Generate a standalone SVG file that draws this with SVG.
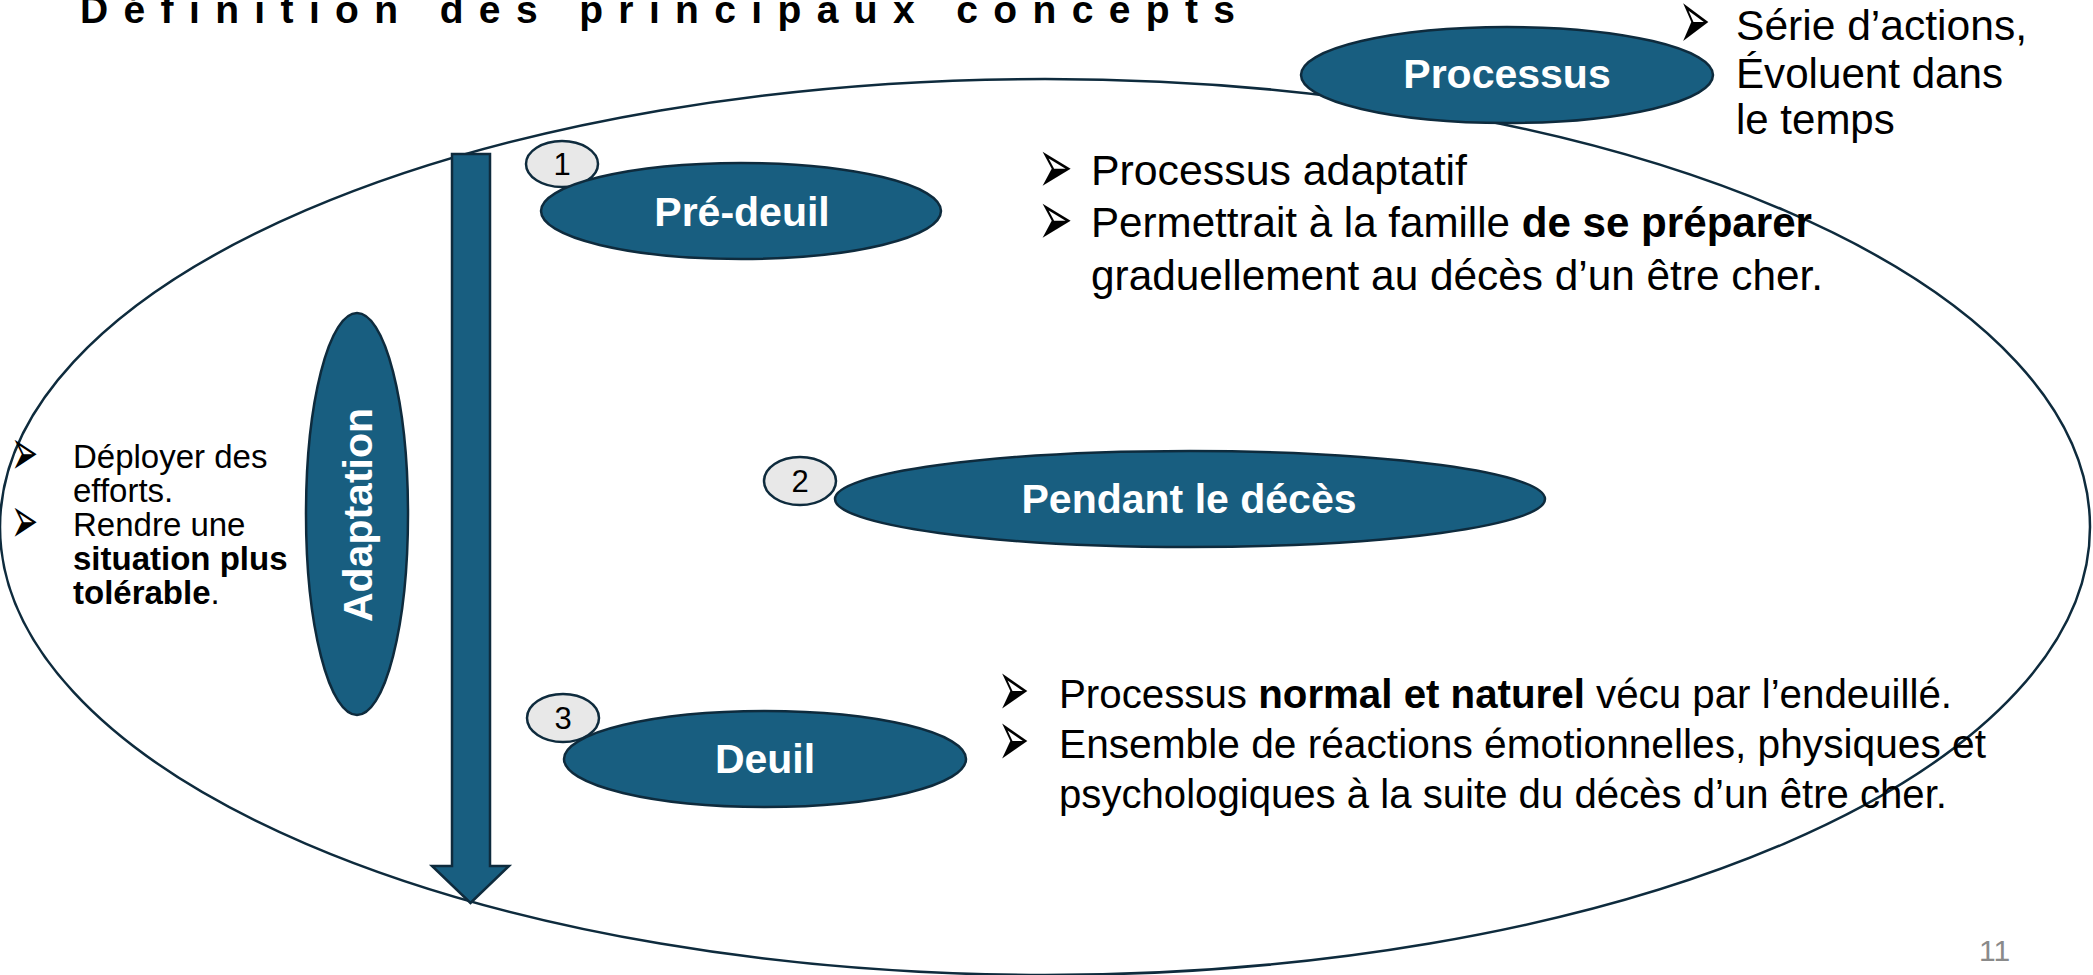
<svg xmlns="http://www.w3.org/2000/svg" width="2093" height="975" viewBox="0 0 2093 975">
<style>
  .bg { fill: #ffffff; }
  .outline { fill: none; stroke: #0e2b3d; stroke-width: 2.5; }
  .node { fill: #185e80; stroke: #0e2b3d; stroke-width: 2.5; }
  .num { fill: #e8e8e8; stroke: #0e2b3d; stroke-width: 2.5; }
  .lbl { font-family: "Liberation Sans", Arial, sans-serif; font-weight: bold; font-size: 41px; fill: #ffffff; text-anchor: middle; }
  .numt { font-family: "Liberation Sans", Arial, sans-serif; font-size: 31px; fill: #000000; text-anchor: middle; }
  .body { font-family: "Liberation Sans", Arial, sans-serif; fill: #000000; }
  .b { font-weight: bold; }
  .bul { font-family: "DejaVu Sans", sans-serif; font-size: 60px; fill: #000000; }
  .title { font-family: "Liberation Sans", Arial, sans-serif; font-weight: bold; font-size: 39px; fill: #000000; }
  .page { font-family: "Liberation Sans", Arial, sans-serif; font-size: 30px; fill: #8a8a8a; }
</style>
<rect class="bg" x="0" y="0" width="2093" height="975"/>

<text class="title" x="80" y="23" textLength="1155" lengthAdjust="spacing">Définition des principaux concepts</text>

<g id="processus-scope">
  <ellipse class="outline" cx="1045" cy="527" rx="1045" ry="448"/>
</g>

<g id="connectors">
  <path class="node" d="M452,154 H490 V866 H509 L470.5,903 L432,866 H452 Z"/>
</g>

<g id="node-processus">
  <ellipse class="node" cx="1507" cy="75" rx="206" ry="48"/>
  <text class="lbl" x="1507" y="88">Processus</text>
</g>

<g id="note-processus">
  <text class="bul" transform="translate(1679,49) scale(0.62,1.43)">➢</text>
  <text class="body" font-size="42" x="1736" y="40" textLength="291" lengthAdjust="spacingAndGlyphs">Série d’actions,</text>
  <text class="body" font-size="42" x="1736" y="88" textLength="267" lengthAdjust="spacingAndGlyphs">Évoluent dans</text>
  <text class="body" font-size="42" x="1736" y="134">le temps</text>
</g>

<g id="node-1">
  <ellipse class="num" cx="562" cy="164" rx="36" ry="23"/>
  <text class="numt" x="562" y="175">1</text>
</g>

<g id="node-pre-deuil">
  <ellipse class="node" cx="741" cy="211" rx="200" ry="48"/>
  <text class="lbl" x="742" y="226">Pré-deuil</text>
</g>

<g id="note-pre-deuil">
  <text class="bul" transform="translate(1038,193) scale(0.69,1.29)">➢</text>
  <text class="body" font-size="42" x="1091" y="185" textLength="376" lengthAdjust="spacingAndGlyphs">Processus adaptatif</text>
  <text class="bul" transform="translate(1038,245) scale(0.69,1.29)">➢</text>
  <text class="body" font-size="42" x="1091" y="237" textLength="721" lengthAdjust="spacingAndGlyphs">Permettrait à la famille <tspan class="b">de se préparer</tspan></text>
  <text class="body" font-size="42" x="1091" y="290" textLength="732" lengthAdjust="spacingAndGlyphs">graduellement au décès d’un être cher.</text>
</g>

<g id="node-2">
  <ellipse class="num" cx="800" cy="481" rx="36" ry="24"/>
  <text class="numt" x="800" y="492">2</text>
</g>

<g id="node-pendant">
  <ellipse class="node" cx="1190" cy="499" rx="355" ry="48"/>
  <text class="lbl" x="1189" y="513">Pendant le décès</text>
</g>

<g id="node-3">
  <ellipse class="num" cx="563" cy="718" rx="36" ry="24"/>
  <text class="numt" x="563" y="729">3</text>
</g>

<g id="node-deuil">
  <ellipse class="node" cx="765" cy="759" rx="201" ry="48"/>
  <text class="lbl" x="765" y="773">Deuil</text>
</g>

<g id="note-deuil">
  <text class="bul" transform="translate(998,716) scale(0.62,1.33)">➢</text>
  <text class="body" font-size="41" x="1059" y="708" textLength="893" lengthAdjust="spacingAndGlyphs">Processus <tspan class="b">normal et naturel</tspan> vécu par l’endeuillé.</text>
  <text class="bul" transform="translate(998,766) scale(0.62,1.33)">➢</text>
  <text class="body" font-size="41" x="1059" y="758" textLength="927" lengthAdjust="spacingAndGlyphs">Ensemble de réactions émotionnelles, physiques et</text>
  <text class="body" font-size="41" x="1059" y="808" textLength="888" lengthAdjust="spacingAndGlyphs">psychologiques à la suite du décès d’un être cher.</text>
</g>

<g id="node-adaptation">
  <ellipse class="node" cx="357" cy="514" rx="51" ry="201"/>
  <text class="lbl" font-size="42" transform="translate(372,515) rotate(-90)" x="0" y="0">Adaptation</text>
</g>

<g id="note-adaptation">
  <text class="bul" transform="translate(11,475) scale(0.54,1.1)">➢</text>
  <text class="body" font-size="33" x="73" y="468">Déployer des</text>
  <text class="body" font-size="33" x="73" y="502">efforts.</text>
  <text class="bul" transform="translate(11,543) scale(0.54,1.1)">➢</text>
  <text class="body" font-size="33" x="73" y="536">Rendre une</text>
  <text class="body b" font-size="33" x="73" y="570">situation plus</text>
  <text class="body" font-size="33" x="73" y="604"><tspan class="b">tolérable</tspan>.</text>
</g>

<text class="page" x="1979" y="961">11</text>
</svg>
